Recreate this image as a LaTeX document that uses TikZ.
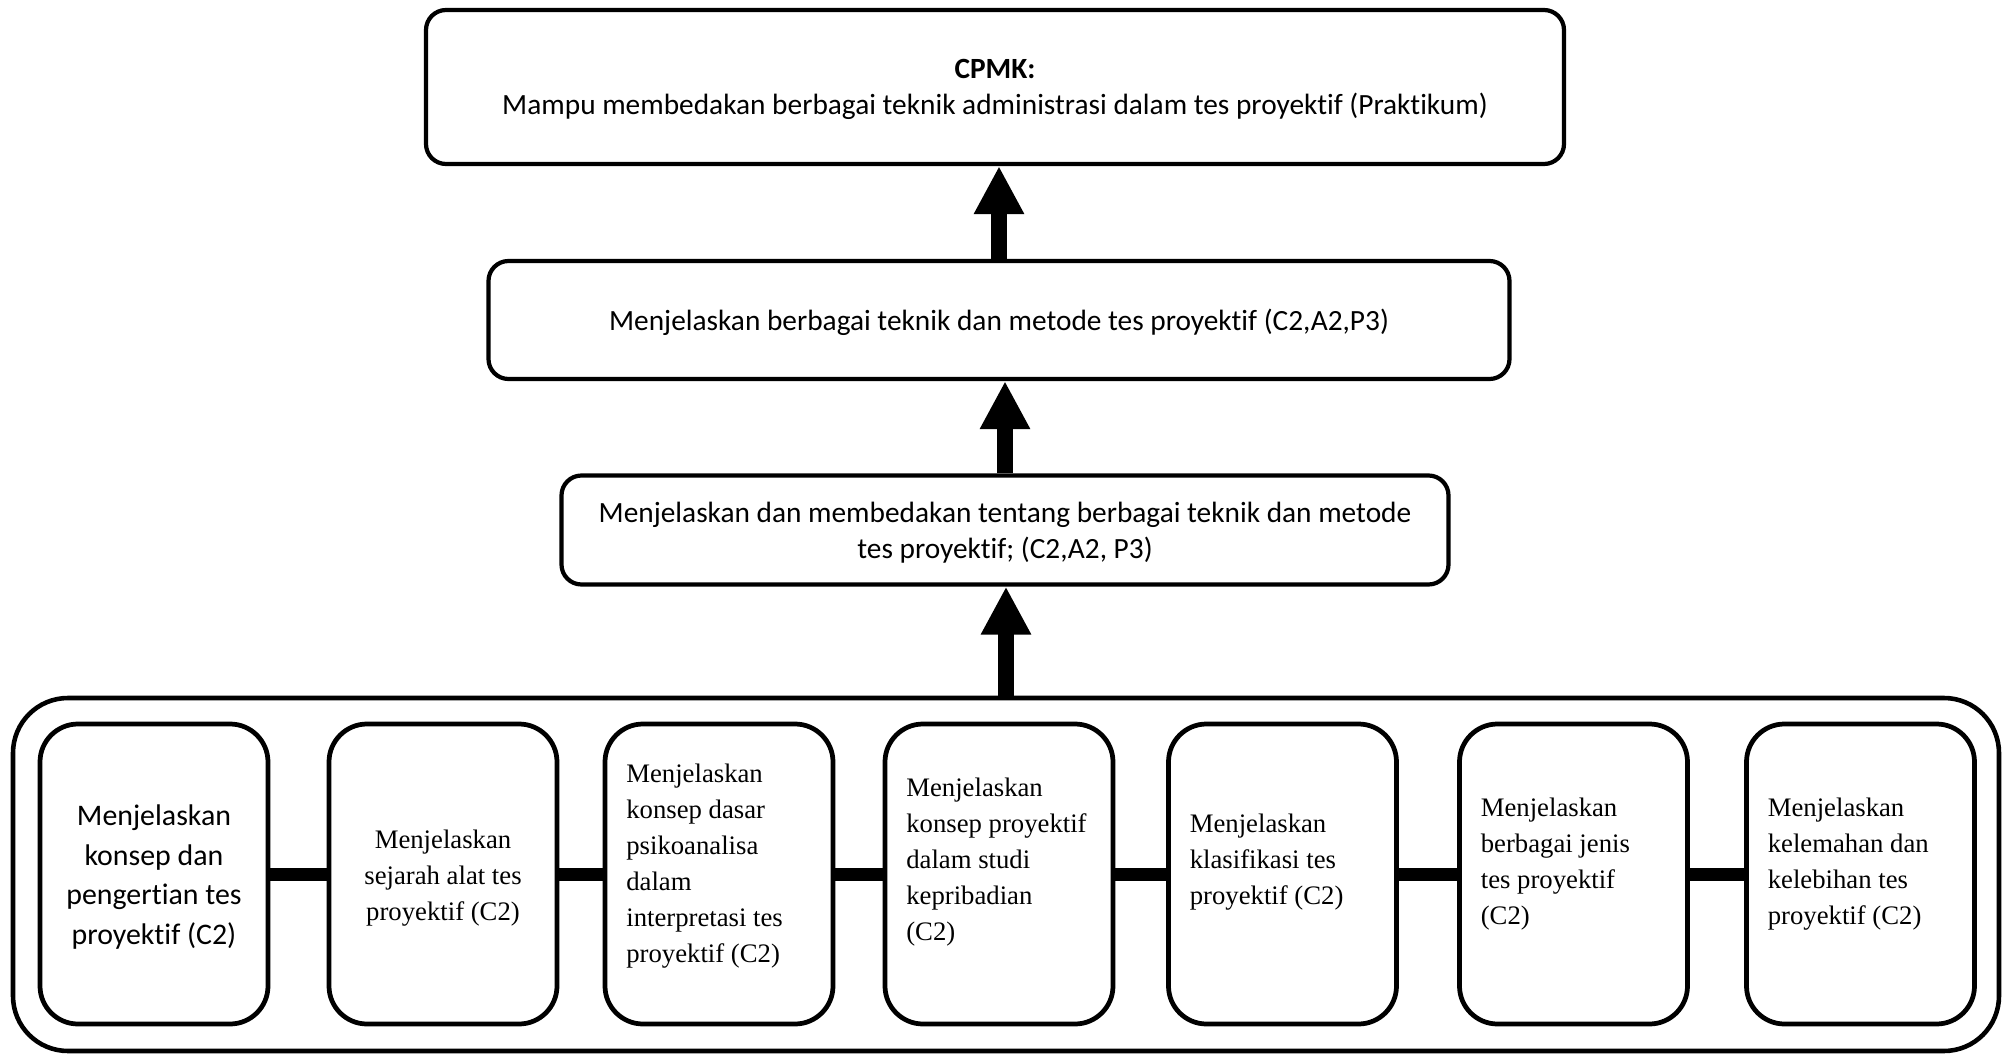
\documentclass[tikz,border=0pt]{standalone}
\usepackage{fontspec}
\setmainfont{Carlito}[Ligatures=NoCommon]
\newfontfamily\timesfont{Liberation Serif}
\usetikzlibrary{arrows.meta}

\tikzset{
  goalbox/.style={draw,rounded corners=0.2cm,line width=1.2pt,align=center,
    text depth=0pt,font=\fontsize{8.35}{10.3}\selectfont},
  subbox/.style={draw,rounded corners=0.38cm,line width=1.35pt,
    minimum width=2.28cm,minimum height=3.0cm},
  subtext/.style={align=left,inner sep=0pt,anchor=west,
    font=\timesfont\fontsize{7.6}{10.2}\selectfont},
  bar/.style={line width=3.7pt}
}

\begin{document}
\begin{tikzpicture}[>={Triangle[length=0.48cm,width=0.47cm]}]
\useasboundingbox (0,0) rectangle (20.08,-10.54);

% three levels above the group
\node[goalbox,minimum width=11.38cm,minimum height=1.54cm] (cpmk) at (9.95,-0.87)
	{\textbf{CPMK:}\\Mampu membedakan berbagai teknik administrasi dalam tes proyektif (Praktikum)};
\node[goalbox,minimum width=10.21cm,minimum height=1.18cm] (teknik) at (9.99,-3.20)
	{Menjelaskan berbagai teknik dan metode tes proyektif (C2,A2,P3)};
\node[goalbox,minimum width=8.87cm,minimum height=1.09cm] (beda) at (10.05,-5.30)
	{Menjelaskan dan membedakan tentang berbagai teknik dan metode\\tes proyektif; (C2,A2, P3)};

% group of sub-goals
\node[draw,rounded corners=0.55cm,line width=1.3pt,
	minimum width=19.86cm,minimum height=3.53cm] (wadah) at (10.06,-8.745) {};
\foreach \n/\x in {1/1.54,2/4.43,3/7.19,4/9.99,5/12.825,6/15.735,7/18.605}
	\node[subbox] (k\n) at (\x,-8.74) {};

\node[align=center,font=\fontsize{8.5}{11.3}\selectfont] (t1) at ([yshift=-0.03cm]k1)
	{Menjelaskan\\konsep dan\\pengertian tes\\proyektif (C2)};
\node[align=center,font=\timesfont\fontsize{7.6}{10.2}\selectfont] (t2) at ([yshift=-0.04cm]k2)
	{Menjelaskan\\sejarah alat tes\\proyektif (C2)};
\node[subtext] (t3) at ([xshift=0.23cm,yshift=0.08cm]k3.west)
	{Menjelaskan\\konsep dasar\\psikoanalisa\\dalam\\interpretasi tes\\proyektif (C2)};
\node[subtext] (t4) at ([xshift=0.23cm,yshift=0.12cm]k4.west)
	{Menjelaskan\\konsep proyektif\\dalam studi\\kepribadian\\(C2)};
\node[subtext] (t5) at ([xshift=0.23cm,yshift=0.12cm]k5.west)
	{Menjelaskan\\klasifikasi tes\\proyektif (C2)};
\node[subtext] (t6) at ([xshift=0.23cm,yshift=0.10cm]k6.west)
	{Menjelaskan\\berbagai jenis\\tes proyektif\\(C2)};
\node[subtext] (t7) at ([xshift=0.23cm,yshift=0.10cm]k7.west)
	{Menjelaskan\\kelemahan dan\\kelebihan tes\\proyektif (C2)};

\foreach \a/\b in {1/2,2/3,3/4,4/5,5/6,6/7}
	\draw[bar] (k\a) -- (k\b);

% arrows up
\draw[->,line width=4.5pt] (teknik.north) -- (teknik.north |- cpmk.south);
\draw[->,line width=4.5pt] (beda.north) -- (beda.north |- teknik.south);
\draw[->,line width=4.5pt] (wadah.north) -- (wadah.north |- beda.south);
\end{tikzpicture}
\end{document}
